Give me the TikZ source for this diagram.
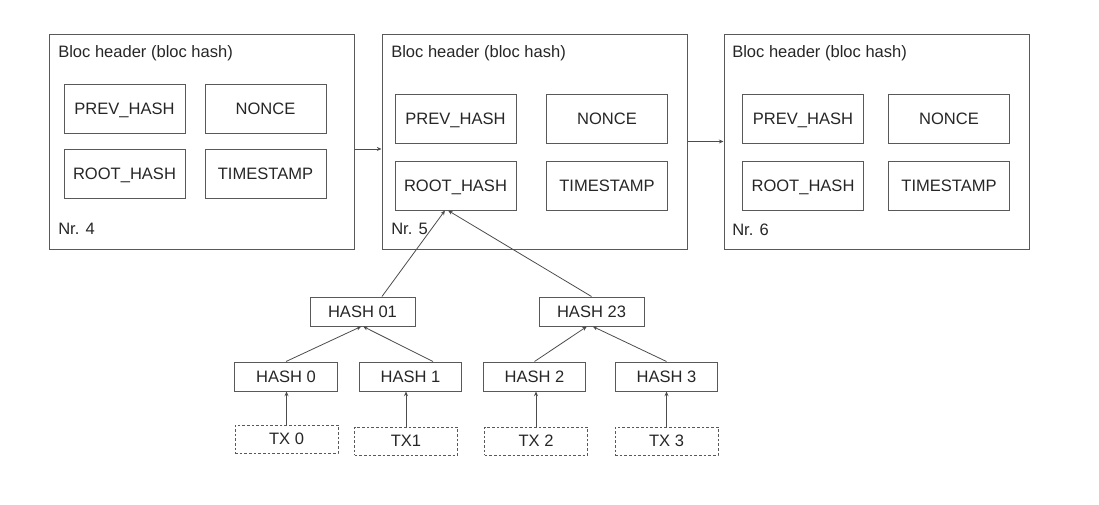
\documentclass[tikz,border=0pt]{standalone}
\usepackage{fontspec}
\setmainfont{Liberation Sans}
\usetikzlibrary{arrows.meta,positioning}

\tikzset{
  boxline/.style={draw=black!65, line width=0.75pt},
  blockbox/.style={boxline, minimum width=228.75pt, minimum height=161.25pt},
  field/.style={boxline, text height=8.9pt, text depth=0pt,
    minimum width=90.75pt, minimum height=36.75pt},
  hashbox/.style={boxline, text height=8.9pt, text depth=0pt,
    minimum width=77pt, minimum height=21.75pt},
  txbox/.style={draw=black!65, line width=0.75pt, dash pattern=on 2pt off 1.5pt,
    text height=8.9pt, text depth=0pt, minimum width=77.25pt, minimum height=21pt},
  caption/.style={anchor=west, inner sep=0pt},
  link/.style={draw=black!70, line width=0.6pt, -{Stealth[length=3.5pt,width=3pt]}}
}

\begin{document}
\begin{tikzpicture}[x=0.75pt, y=-0.75pt,
  every node/.style={text=black!85, font=\fontsize{12.4}{14}\selectfont}]
\useasboundingbox (0,0) rectangle (1099,504);

% blocks of the chain
\node[blockbox] (blk4) at (201.5,141.5) {};
\node[blockbox] (blk5) at (534.5,141.5) {};
\node[blockbox] (blk6) at (876.5,141.5) {};

\node[caption] (title4) at (58,53) {Bloc header (bloc hash)};
\node[caption] (title5) at (391,53) {Bloc header (bloc hash)};
\node[caption] (title6) at (732,53) {Bloc header (bloc hash)};
\node[caption] (nr4) at (58,229) {Nr. 4};
\node[caption] (nr5) at (391,229) {Nr. 5};
\node[caption] (nr6) at (732,230) {Nr. 6};

% header fields
\node[field] (prev4) at (124.5,108.5) {PREV\_HASH};
\node[field] (nonce4) at (265.5,108.5) {NONCE};
\node[field] (root4) at (124.5,173.5) {ROOT\_HASH};
\node[field] (time4) at (265.5,173.5) {TIMESTAMP};

\node[field] (prev5) at (455.5,118.5) {PREV\_HASH};
\node[field] (nonce5) at (607,118.5) {NONCE};
\node[field] (root5) at (455.5,185.5) {ROOT\_HASH};
\node[field] (time5) at (607,185.5) {TIMESTAMP};

\node[field] (prev6) at (803,118.5) {PREV\_HASH};
\node[field] (nonce6) at (949,118.5) {NONCE};
\node[field] (root6) at (803,185.5) {ROOT\_HASH};
\node[field] (time6) at (949,185.5) {TIMESTAMP};

% merkle tree
\node[hashbox, minimum width=78.75pt] (h01) at (362.5,311.5) {HASH 01};
\node[hashbox, minimum width=78.75pt] (h23) at (591.5,311.5) {HASH 23};
\node[hashbox] (h0) at (286,376.5) {HASH 0};
\node[hashbox] (h1) at (410.5,376.5) {HASH 1};
\node[hashbox] (h2) at (534.5,376.5) {HASH 2};
\node[hashbox] (h3) at (666.5,376.5) {HASH 3};

\node[txbox] (tx0) at (286.5,439) {TX 0};
\node[txbox] (tx1) at (406,441) {TX1};
\node[txbox] (tx2) at (536,441) {TX 2};
\node[txbox] (tx3) at (666.5,441) {TX 3};

% connectors
\draw[link] ([yshift=-5.6pt]blk4.east) -- ([yshift=-5.6pt]blk5.west);
\draw[link] (blk5.east) -- (blk6.west);

\draw[link] (tx0.north) -- (tx0.north |- h0.south);
\draw[link] (tx1.north) -- (tx1.north |- h1.south);
\draw[link] (tx2.north) -- (tx2.north |- h2.south);
\draw[link] (tx3.north) -- (tx3.north |- h3.south);

\draw[link] (h0.north) -- ([xshift=-1pt]h01.south);
\draw[link] ([xshift=16.9pt]h1.north) -- ([xshift=0.5pt]h01.south);
\draw[link] (h2.north) -- ([xshift=-3.5pt]h23.south);
\draw[link] (h3.north) -- ([xshift=1pt]h23.south);

\draw[link] ([xshift=14.6pt]h01.north) -- ([xshift=-7.9pt]root5.south);
\draw[link] (h23.north) -- ([xshift=-5.6pt]root5.south);
\end{tikzpicture}
\end{document}
